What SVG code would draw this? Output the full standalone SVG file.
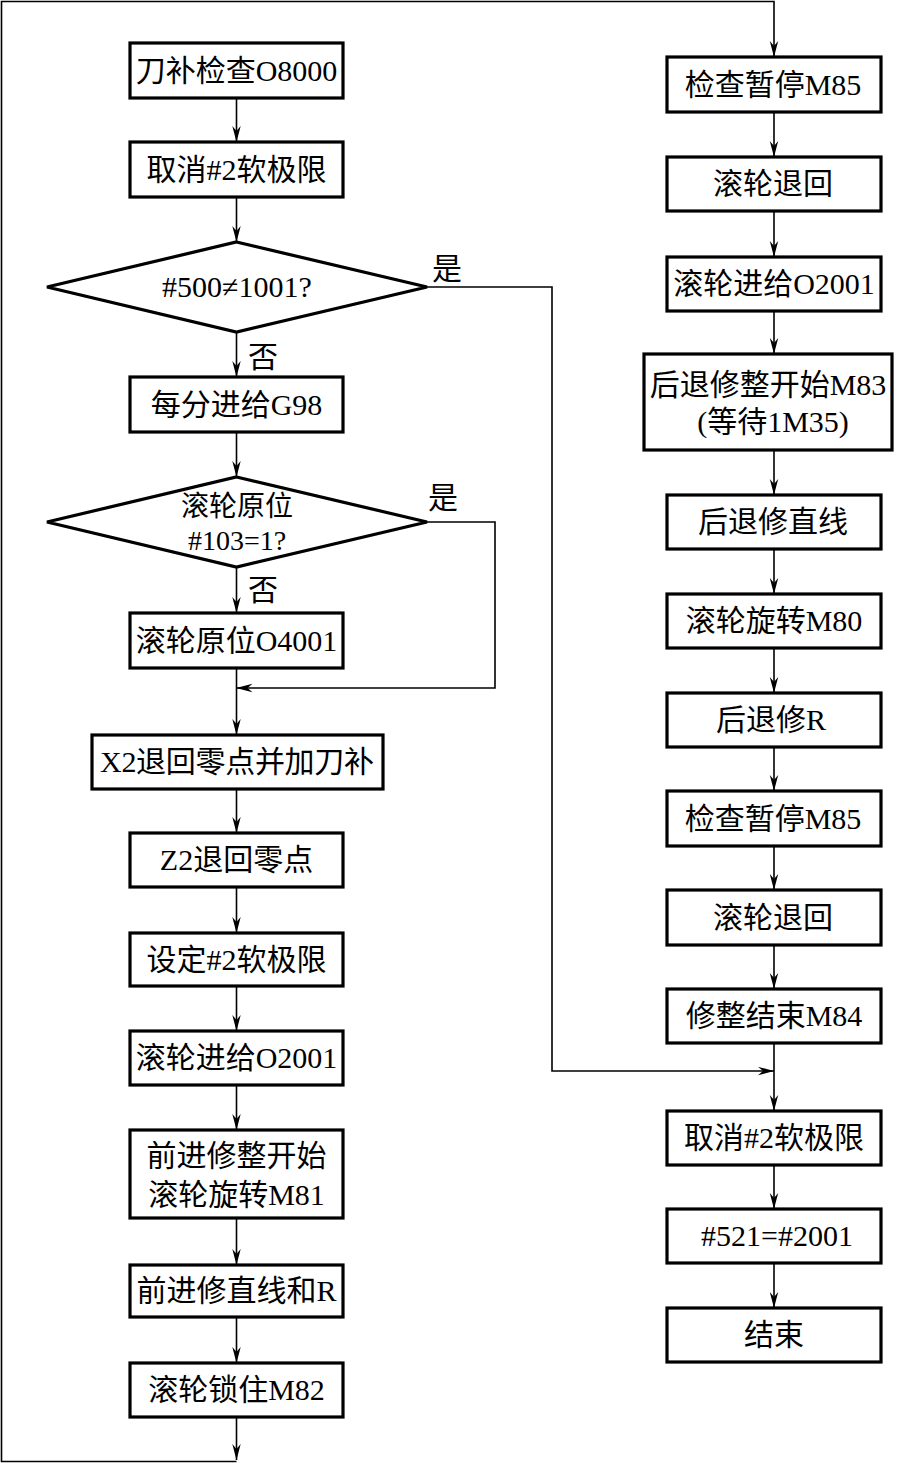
<svg xmlns="http://www.w3.org/2000/svg" width="898" height="1463" viewBox="0 0 898 1463">
<style>
.box{fill:#fff;stroke:#000;stroke-width:3.2}
.t{font-family:"Liberation Serif","Noto Sans CJK SC",serif;font-size:30px;fill:#000;text-anchor:middle}
.s{font-size:28px}
.c{fill:none;stroke:#000;stroke-width:1.6}
</style>
<defs>
<marker id="ah" markerUnits="userSpaceOnUse" viewBox="0 0 16 10" refX="16" refY="5" markerWidth="16" markerHeight="10" orient="auto">
<path d="M0,0.8 L16,5 L0,9.2 L5,5 Z" fill="#000"/>
</marker>
</defs>
<rect width="898" height="1463" fill="#fff"/>
<g id="connectors">
<line class="c" x1="236.5" y1="98" x2="236.5" y2="142" marker-end="url(#ah)"/>
<line class="c" x1="236.5" y1="197" x2="236.5" y2="242" marker-end="url(#ah)"/>
<line class="c" x1="236.5" y1="332" x2="236.5" y2="377" marker-end="url(#ah)"/>
<line class="c" x1="236.5" y1="432" x2="236.5" y2="477" marker-end="url(#ah)"/>
<line class="c" x1="236.5" y1="567" x2="236.5" y2="613" marker-end="url(#ah)"/>
<line class="c" x1="236.5" y1="668" x2="236.5" y2="735" marker-end="url(#ah)"/>
<line class="c" x1="236.5" y1="789" x2="236.5" y2="833" marker-end="url(#ah)"/>
<line class="c" x1="236.5" y1="887" x2="236.5" y2="933" marker-end="url(#ah)"/>
<line class="c" x1="236.5" y1="986" x2="236.5" y2="1031" marker-end="url(#ah)"/>
<line class="c" x1="236.5" y1="1085" x2="236.5" y2="1130" marker-end="url(#ah)"/>
<line class="c" x1="236.5" y1="1218" x2="236.5" y2="1265" marker-end="url(#ah)"/>
<line class="c" x1="236.5" y1="1317" x2="236.5" y2="1363" marker-end="url(#ah)"/>
<line class="c" x1="236.5" y1="1417" x2="236.5" y2="1460" marker-end="url(#ah)"/>
<polyline class="c" points="236.5,1461.5 1.5,1461.5 1.5,1.5 774,1.5 774,57" marker-end="url(#ah)"/>
<polyline class="c" points="427,287 552,287 552,1071 774,1071" marker-end="url(#ah)"/>
<polyline class="c" points="427,522 495,522 495,688 236.5,688" marker-end="url(#ah)"/>
<line class="c" x1="774" y1="112" x2="774" y2="157" marker-end="url(#ah)"/>
<line class="c" x1="774" y1="211" x2="774" y2="257" marker-end="url(#ah)"/>
<line class="c" x1="774" y1="311" x2="774" y2="354" marker-end="url(#ah)"/>
<line class="c" x1="774" y1="450" x2="774" y2="495" marker-end="url(#ah)"/>
<line class="c" x1="774" y1="549" x2="774" y2="594" marker-end="url(#ah)"/>
<line class="c" x1="774" y1="648" x2="774" y2="693" marker-end="url(#ah)"/>
<line class="c" x1="774" y1="747" x2="774" y2="791" marker-end="url(#ah)"/>
<line class="c" x1="774" y1="846" x2="774" y2="890" marker-end="url(#ah)"/>
<line class="c" x1="774" y1="945" x2="774" y2="989" marker-end="url(#ah)"/>
<line class="c" x1="774" y1="1043" x2="774" y2="1111" marker-end="url(#ah)"/>
<line class="c" x1="774" y1="1165" x2="774" y2="1209" marker-end="url(#ah)"/>
<line class="c" x1="774" y1="1263" x2="774" y2="1308" marker-end="url(#ah)"/>
<text class="t" x="447" y="279">是</text>
<text class="t" x="263" y="367">否</text>
<text class="t" x="443" y="508">是</text>
<text class="t" x="263" y="600">否</text>
</g>
<g id="n1"><rect class="box" x="130" y="43" width="213" height="55"/><text class="t" x="236.5" y="81">刀补检查O8000</text></g>
<g id="n2"><rect class="box" x="130" y="142" width="213" height="55"/><text class="t" x="236.5" y="180">取消#2软极限</text></g>
<g id="d1"><polygon class="box" points="236.5,242 427,287 236.5,332 47,287"/><text class="t" x="237" y="297">#500≠1001?</text></g>
<g id="n3"><rect class="box" x="130" y="377" width="213" height="55"/><text class="t" x="236.5" y="415">每分进给G98</text></g>
<g id="d2"><polygon class="box" points="236.5,477 427,522 236.5,567 47,522"/><text class="t s" x="237" y="516">滚轮原位</text><text class="t s" x="237" y="550">#103=1?</text></g>
<g id="n4"><rect class="box" x="130" y="613" width="213" height="55"/><text class="t" x="236.5" y="651">滚轮原位O4001</text></g>
<g id="n5"><rect class="box" x="92" y="735" width="291" height="54"/><text class="t" x="237" y="772" textLength="274" lengthAdjust="spacing">X2退回零点并加刀补</text></g>
<g id="n6"><rect class="box" x="130" y="833" width="213" height="54"/><text class="t" x="236.5" y="870">Z2退回零点</text></g>
<g id="n7"><rect class="box" x="130" y="933" width="213" height="53"/><text class="t" x="236.5" y="970">设定#2软极限</text></g>
<g id="n8"><rect class="box" x="130" y="1031" width="213" height="54"/><text class="t" x="236.5" y="1068">滚轮进给O2001</text></g>
<g id="n9"><rect class="box" x="130" y="1130" width="213" height="88"/><text class="t" x="236.5" y="1166">前进修整开始</text><text class="t" x="236.5" y="1205">滚轮旋转M81</text></g>
<g id="n10"><rect class="box" x="130" y="1265" width="213" height="52"/><text class="t" x="236.5" y="1301">前进修直线和R</text></g>
<g id="n11"><rect class="box" x="130" y="1363" width="213" height="54"/><text class="t" x="236.5" y="1400">滚轮锁住M82</text></g>
<g id="r1"><rect class="box" x="667" y="57" width="214" height="55"/><text class="t" x="773" y="95">检查暂停M85</text></g>
<g id="r2"><rect class="box" x="667" y="157" width="214" height="54"/><text class="t" x="773" y="194">滚轮退回</text></g>
<g id="r3"><rect class="box" x="667" y="257" width="214" height="54"/><text class="t" x="774" y="294">滚轮进给O2001</text></g>
<g id="r4"><rect class="box" x="644" y="354" width="248" height="96"/><text class="t" x="768" y="395">后退修整开始M83</text><text class="t" x="773" y="432">(等待1M35)</text></g>
<g id="r5"><rect class="box" x="667" y="495" width="214" height="54"/><text class="t" x="773" y="532">后退修直线</text></g>
<g id="r6"><rect class="box" x="667" y="594" width="214" height="54"/><text class="t" x="774" y="631">滚轮旋转M80</text></g>
<g id="r7"><rect class="box" x="667" y="693" width="214" height="54"/><text class="t" x="771" y="730">后退修R</text></g>
<g id="r8"><rect class="box" x="667" y="791" width="214" height="55"/><text class="t" x="773" y="829">检查暂停M85</text></g>
<g id="r9"><rect class="box" x="667" y="890" width="214" height="55"/><text class="t" x="773" y="928">滚轮退回</text></g>
<g id="r10"><rect class="box" x="667" y="989" width="214" height="54"/><text class="t" x="774" y="1026">修整结束M84</text></g>
<g id="r11"><rect class="box" x="667" y="1111" width="214" height="54"/><text class="t" x="774" y="1148">取消#2软极限</text></g>
<g id="r12"><rect class="box" x="667" y="1209" width="214" height="54"/><text class="t" x="777" y="1246">#521=#2001</text></g>
<g id="r13"><rect class="box" x="667" y="1308" width="214" height="54"/><text class="t" x="774" y="1345">结束</text></g>
</svg>
